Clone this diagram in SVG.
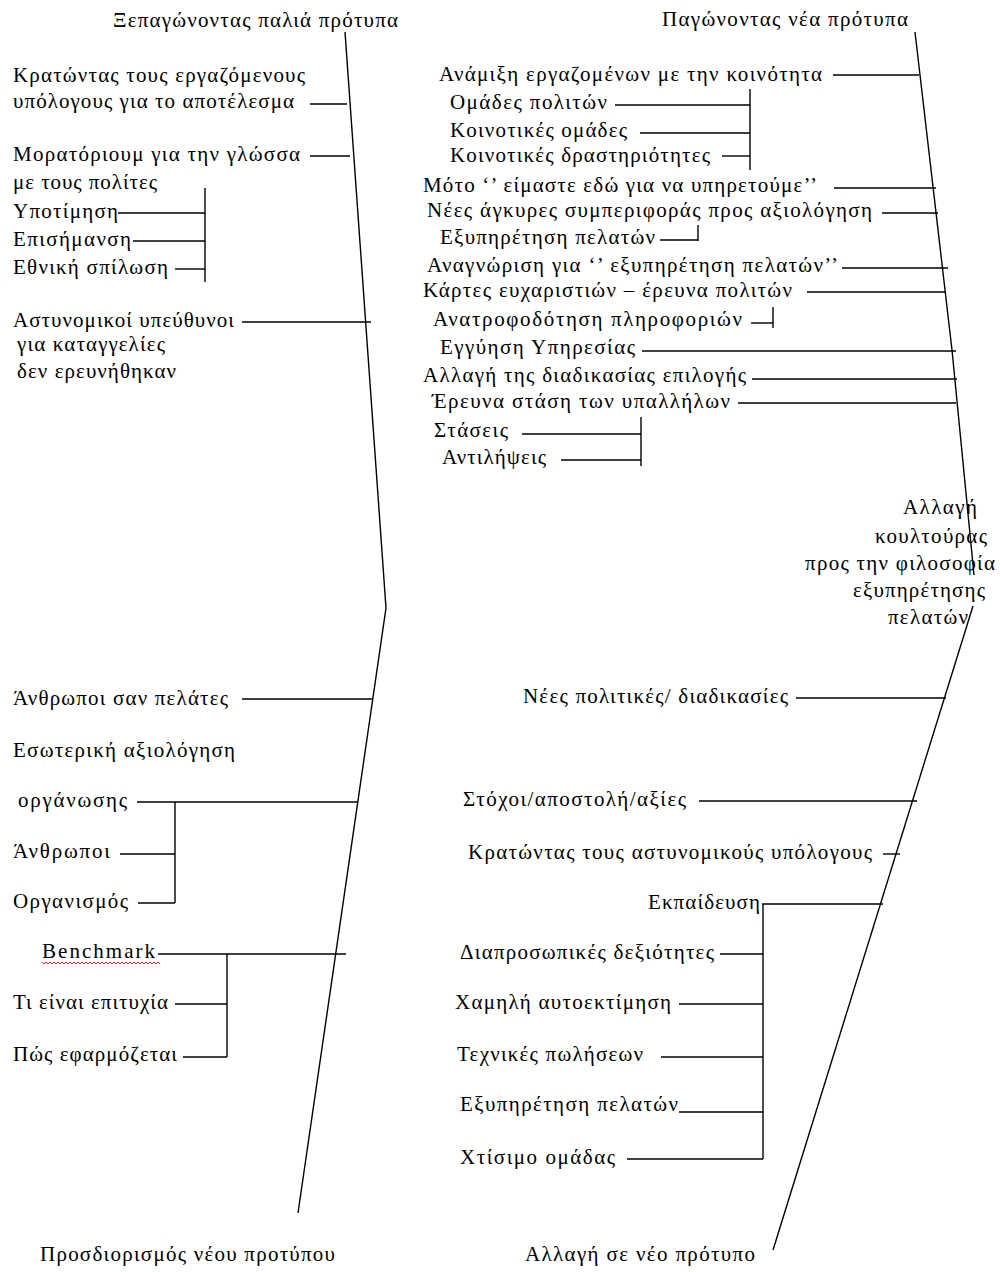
<svg xmlns="http://www.w3.org/2000/svg" width="1000" height="1272" viewBox="0 0 1000 1272">
<style>
text{font-family:"Liberation Serif","Times New Roman",serif;font-size:21px;fill:#000}
.c line,.c polyline{stroke:#000;stroke-width:1.4;fill:none}
.w{stroke:#e02020;stroke-width:1;fill:none}
</style>
<rect width="1000" height="1272" fill="#fff"/>
<g class="c" id="connectors">
<polyline points="345,32 386,608 298,1213"/>
<polyline points="915,32 952,350 974,575"/>
<line x1="973" y1="606" x2="773" y2="1250"/>
<line x1="310" y1="104" x2="347" y2="104"/>
<line x1="310" y1="156" x2="350" y2="156"/>
<line x1="118" y1="213" x2="205" y2="213"/>
<line x1="133" y1="241" x2="205" y2="241"/>
<line x1="175" y1="269" x2="205" y2="269"/>
<line x1="205" y1="188" x2="205" y2="282"/>
<line x1="242" y1="322" x2="371" y2="322"/>
<line x1="242" y1="699" x2="373" y2="699"/>
<line x1="137" y1="802" x2="358" y2="802"/>
<line x1="120" y1="854" x2="175" y2="854"/>
<line x1="138" y1="903" x2="175" y2="903"/>
<line x1="175" y1="802" x2="175" y2="903"/>
<line x1="158" y1="954" x2="346" y2="954"/>
<line x1="175" y1="1004" x2="227" y2="1004"/>
<line x1="183" y1="1057" x2="227" y2="1057"/>
<line x1="227" y1="954" x2="227" y2="1057"/>
<line x1="833" y1="75" x2="919" y2="75"/>
<line x1="615" y1="105" x2="750" y2="105"/>
<line x1="640" y1="133" x2="750" y2="133"/>
<line x1="722" y1="156" x2="750" y2="156"/>
<line x1="750" y1="89" x2="750" y2="170"/>
<line x1="834" y1="188" x2="936" y2="188"/>
<line x1="882" y1="213" x2="938" y2="213"/>
<line x1="660" y1="240" x2="698" y2="240"/>
<line x1="698" y1="225" x2="698" y2="241"/>
<line x1="842" y1="268" x2="948" y2="268"/>
<line x1="807" y1="292" x2="946" y2="292"/>
<line x1="751" y1="323" x2="773" y2="323"/>
<line x1="773" y1="307" x2="773" y2="328"/>
<line x1="642" y1="351" x2="956" y2="351"/>
<line x1="752" y1="379" x2="957" y2="379"/>
<line x1="738" y1="403" x2="956" y2="403"/>
<line x1="522" y1="434" x2="641" y2="434"/>
<line x1="561" y1="460" x2="641" y2="460"/>
<line x1="641" y1="417" x2="641" y2="466"/>
<line x1="796" y1="698" x2="946" y2="698"/>
<line x1="699" y1="801" x2="917" y2="801"/>
<line x1="883" y1="854" x2="900" y2="854"/>
<line x1="762" y1="904" x2="883" y2="904"/>
<line x1="720" y1="954" x2="763" y2="954"/>
<line x1="679" y1="1004" x2="763" y2="1004"/>
<line x1="661" y1="1057" x2="763" y2="1057"/>
<line x1="679" y1="1112" x2="763" y2="1112"/>
<line x1="627" y1="1159" x2="763" y2="1159"/>
<line x1="763" y1="904" x2="763" y2="1159"/>
</g>
<g id="n-old"><text x="113" y="27" textLength="285">Ξεπαγώνοντας παλιά πρότυπα</text></g>
<g id="n-krat"><text x="13" y="82" textLength="292">Κρατώντας τους εργαζόμενους</text><text x="13" y="108" textLength="281">υπόλογους για το αποτέλεσμα</text></g>
<g id="n-morat"><text x="13" y="161" textLength="287">Μορατόριουμ για την γλώσσα</text><text x="13" y="189" textLength="144">με τους πολίτες</text></g>
<g id="n-ypot"><text x="13" y="218" textLength="105">Υποτίμηση</text></g>
<g id="n-epis"><text x="13" y="246" textLength="118">Επισήμανση</text></g>
<g id="n-ethn"><text x="13" y="274" textLength="155">Εθνική σπίλωση</text></g>
<g id="n-astyn"><text x="13" y="327" textLength="221">Αστυνομικοί υπεύθυνοι</text><text x="17" y="351" textLength="148">για καταγγελίες</text><text x="17" y="378" textLength="159">δεν ερευνήθηκαν</text></g>
<g id="n-anthr-pel"><text x="13" y="705" textLength="215">Άνθρωποι σαν πελάτες</text></g>
<g id="n-esot"><text x="13" y="757" textLength="222">Εσωτερική αξιολόγηση</text></g>
<g id="n-organ"><text x="18" y="807" textLength="109">οργάνωσης</text></g>
<g id="n-anthr"><text x="13" y="858" textLength="97">Άνθρωποι</text></g>
<g id="n-organism"><text x="13" y="908" textLength="115">Οργανισμός</text></g>
<g id="n-bench"><text x="42" y="958" textLength="113">Benchmark</text><path class="w" d="M42 962 l2 2 l2 -2 l2 2 l2 -2 l2 2 l2 -2 l2 2 l2 -2 l2 2 l2 -2 l2 2 l2 -2 l2 2 l2 -2 l2 2 l2 -2 l2 2 l2 -2 l2 2 l2 -2 l2 2 l2 -2 l2 2 l2 -2 l2 2 l2 -2 l2 2 l2 -2 l2 2 l2 -2 l2 2 l2 -2 l2 2 l2 -2 l2 2 l2 -2 l2 2 l2 -2 l2 2 l2 -2 l2 2 l2 -2 l2 2 l2 -2 l2 2 l2 -2 l2 2 l2 -2 l2 2 l2 -2 l2 2 l2 -2 l2 2 l2 -2 l2 2 l2 -2 l2 2 l2 -2 l2 2"/></g>
<g id="n-ti"><text x="13" y="1009" textLength="155">Τι είναι επιτυχία</text></g>
<g id="n-pos"><text x="13" y="1061" textLength="164">Πώς εφαρμόζεται</text></g>
<g id="n-prosd"><text x="40" y="1261" textLength="295">Προσδιορισμός νέου προτύπου</text></g>
<g id="n-new"><text x="662" y="26" textLength="246">Παγώνοντας νέα πρότυπα</text></g>
<g id="n-anam"><text x="439" y="81" textLength="383">Ανάμιξη εργαζομένων με την κοινότητα</text></g>
<g id="n-omad"><text x="450" y="109" textLength="157">Ομάδες πολιτών</text></g>
<g id="n-koin-om"><text x="450" y="137" textLength="177">Κοινοτικές ομάδες</text></g>
<g id="n-koin-dr"><text x="450" y="162" textLength="260">Κοινοτικές δραστηριότητες</text></g>
<g id="n-moto"><text x="423" y="192" textLength="394">Μότο ‘’ είμαστε εδώ για να υπηρετούμε’’</text></g>
<g id="n-agk"><text x="427" y="217" textLength="445">Νέες  άγκυρες συμπεριφοράς προς αξιολόγηση</text></g>
<g id="n-exyp1"><text x="440" y="244" textLength="215">Εξυπηρέτηση πελατών</text></g>
<g id="n-anagn"><text x="427" y="272" textLength="411">Αναγνώριση για ‘’ εξυπηρέτηση  πελατών’’</text></g>
<g id="n-kart"><text x="423" y="297" textLength="369">Κάρτες ευχαριστιών – έρευνα πολιτών</text></g>
<g id="n-anatr"><text x="433" y="326" textLength="309">Ανατροφοδότηση πληροφοριών</text></g>
<g id="n-egg"><text x="440" y="354" textLength="195">Εγγύηση Υπηρεσίας</text></g>
<g id="n-allag-ep"><text x="423" y="382" textLength="323">Αλλαγή της διαδικασίας επιλογής</text></g>
<g id="n-erevna"><text x="432" y="408" textLength="298">Έρευνα στάση των υπαλλήλων</text></g>
<g id="n-stas"><text x="434" y="437" textLength="74">Στάσεις</text></g>
<g id="n-antil"><text x="442" y="464" textLength="104">Αντιλήψεις</text></g>
<g id="n-koult"><text x="903" y="514" textLength="74">Αλλαγή</text><text x="875" y="543" textLength="112">κουλτούρας</text><text x="805" y="570" textLength="190">προς την φιλοσοφία</text><text x="853" y="597" textLength="132">εξυπηρέτησης</text><text x="888" y="624" textLength="80">πελατών</text></g>
<g id="n-polit"><text x="523" y="703" textLength="265">Νέες πολιτικές/ διαδικασίες</text></g>
<g id="n-stoch"><text x="463" y="806" textLength="223">Στόχοι/αποστολή/αξίες</text></g>
<g id="n-krat-ast"><text x="468" y="859" textLength="404">Κρατώντας τους αστυνομικούς υπόλογους</text></g>
<g id="n-ekp"><text x="648" y="909" textLength="112">Εκπαίδευση</text></g>
<g id="n-diapr"><text x="460" y="959" textLength="254">Διαπροσωπικές δεξιότητες</text></g>
<g id="n-xam"><text x="455" y="1009" textLength="216">Χαμηλή  αυτοεκτίμηση</text></g>
<g id="n-texn"><text x="457" y="1061" textLength="186">Τεχνικές πωλήσεων</text></g>
<g id="n-exyp2"><text x="460" y="1111" textLength="218">Εξυπηρέτηση  πελατών</text></g>
<g id="n-xtis"><text x="460" y="1164" textLength="155">Χτίσιμο ομάδας</text></g>
<g id="n-allag-neo"><text x="525" y="1261" textLength="230">Αλλαγή σε νέο πρότυπο</text></g>
</svg>
